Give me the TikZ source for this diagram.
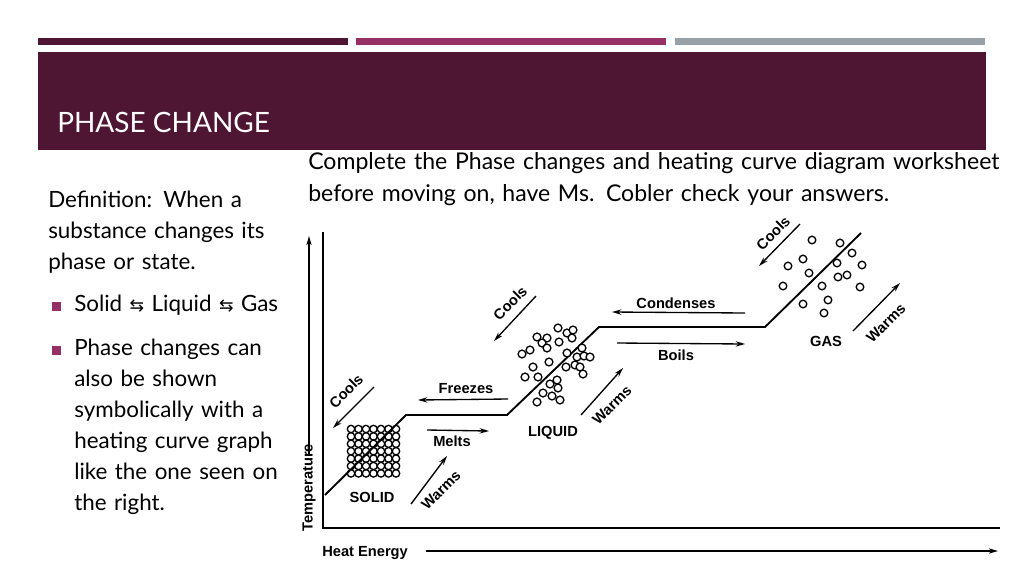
\documentclass[tikz,border=0pt]{standalone}
\usepackage{fontspec}
\setmainfont{Lato}
\newfontfamily\lab{Liberation Sans}
\newfontfamily\djv{DejaVu Sans}
\usetikzlibrary{arrows.meta}
\definecolor{wine}{HTML}{4F1634}
\definecolor{rose}{HTML}{962F63}
\definecolor{greyb}{HTML}{99A1A8}
\tikzset{
  lbl/.style={font=\lab\bfseries\fontsize{11}{12}\selectfont, inner sep=0pt},
  arr/.style={line width=1pt,-{Stealth[length=7pt,width=4pt]}},
  mol/.style={draw, line width=1pt, fill=white},
  body/.style={font=\fontsize{16.8}{23.25}\selectfont, anchor=north west, inner sep=0pt, align=left, text width=#1},
}
\begin{document}
\begin{tikzpicture}[x=0.75pt,y=-0.75pt]
\useasboundingbox (0,0) rectangle (1024,576);
\fill[white] (0,0) rectangle (1024,576);
% header
\fill[wine] (38,38) rectangle (348,45);
\fill[rose] (356,38) rectangle (666,45);
\fill[greyb] (675,38) rectangle (985,45);
\fill[wine] (38,52) rectangle (986,150);
\node[anchor=base west, text=white, font=\fontsize{21}{24}\selectfont, inner sep=0pt] (title) at (57,132) {PHASE CHANGE};
% top text
\node[body=540pt, font=\fontsize{17.3}{24}\selectfont] (top) at (308,152) {Complete the Phase changes and heating curve diagram worksheet\\before moving on, have Ms. Cobler check your answers.};
% left text
\node[body=200pt] (def) at (48,191) {Definition: When a\\substance changes its\\phase or state.};
\fill[rose] (52,302) rectangle (61,311);
\node[body=200pt] (b1) at (74,295) {Solid {\djv\fontsize{13}{15}\selectfont ⇆} Liquid {\djv\fontsize{13}{15}\selectfont ⇆} Gas};
\fill[rose] (52,346) rectangle (61,355);
\node[body=180pt] (b2) at (74,339) {Phase changes can\\also be shown\\symbolically with a\\heating curve graph\\like the one seen on\\the right.};
% axes
\coordinate (o) at (323,528);
\coordinate (ytop) at (323,232);
\coordinate (xend) at (1000,528);
\draw[line width=1.4pt] (ytop) -- (o) -- (xend);
\node[lbl, rotate=90, anchor=west] (temp) at (309,532) {Temperature};
\coordinate (tA) at (309,455);
\coordinate (tB) at (309,236);
\draw[arr] (tA) -- (tB);
\node[lbl, anchor=west] (heat) at (322,553) {Heat Energy};
\coordinate (hA) at (426,551);
\coordinate (hB) at (998,551);
\draw[arr] (hA) -- (hB);
% solid grid
\foreach \i in {0,...,6} \foreach \j in {0,...,6}
  \draw[mol] (351+\i*7.5,429+\j*7.4) circle (3.7);
% curve
\coordinate (c0) at (325,495);
\coordinate (c1) at (406,415);
\coordinate (c2) at (507,415);
\coordinate (c3) at (599,327);
\coordinate (c4) at (765,327);
\coordinate (c5) at (861,233);
\draw[line width=1.4pt] (c0) -- (c1) -- (c2) -- (c3) -- (c4) -- (c5);
% liquid molecules
\foreach \x/\y in {558/328,537/337,567/333,573/330,547/338,542/343,572/338,559/342,530/350,522/354,547/348,582/348,567/353,577/357,584/356,590/357,549/362,533/367,575/365,566/367,580/367,525/377,538/377,583/374,557/380,550/384,558/388,543/393,552/396,537/402,560/400}
  \draw[mol] (\x,\y) circle (3.9);
% gas molecules
\foreach \x/\y in {812/240,840/243,852/253,788/266,803/259,837/263,862/265,809/273,838/277,847/275,783/286,822/286,860/287,828/300,803/304,824/313}
  \draw[mol] (\x,\y) circle (3.8);
% labels and arrows
\node[lbl, rotate=45] (cools1) at (346,391) {Cools};
\coordinate (k1a) at (374,387); \coordinate (k1b) at (333,428);
\draw[arr] (k1a) -- (k1b);
\node[lbl] (frz) at (466,389) {Freezes};
\coordinate (f1) at (508,399); \coordinate (f2) at (418,400);
\draw[arr] (f1) -- (f2);
\node[lbl] (melts) at (452,441) {Melts};
\coordinate (m1) at (427,430); \coordinate (m2) at (489,431);
\draw[arr] (m1) -- (m2);
\node[lbl, rotate=45] (warms1) at (441,490) {Warms};
\coordinate (w1a) at (411,504); \coordinate (w1b) at (447,456);
\draw[arr] (w1a) -- (w1b);
\node[lbl] (solid) at (372,497) {SOLID};
\node[lbl] (liquid) at (553,433) {LIQUID};
\node[lbl, rotate=45] (cools2) at (510,303) {Cools};
\coordinate (k2a) at (536,296); \coordinate (k2b) at (494,341);
\draw[arr] (k2a) -- (k2b);
\node[lbl, rotate=45] (warms2) at (612,405) {Warms};
\coordinate (w2a) at (581,415); \coordinate (w2b) at (623,368);
\draw[arr] (w2a) -- (w2b);
\node[lbl] (cond) at (676,303) {Condenses};
\coordinate (d1) at (745,313); \coordinate (d2) at (612,312);
\draw[arr] (d1) -- (d2);
\node[lbl] (boils) at (676,355) {Boils};
\coordinate (b1a) at (617,343); \coordinate (b1b) at (745,344);
\draw[arr] (b1a) -- (b1b);
\node[lbl] (gas) at (826,341) {GAS};
\node[lbl, rotate=45] (cools3) at (773,233) {Cools};
\coordinate (k3a) at (800,224); \coordinate (k3b) at (759,266);
\draw[arr] (k3a) -- (k3b);
\node[lbl, rotate=45] (warms3) at (886,323) {Warms};
\coordinate (w3a) at (853,331); \coordinate (w3b) at (900,283);
\draw[arr] (w3a) -- (w3b);
\end{tikzpicture}
\end{document}
